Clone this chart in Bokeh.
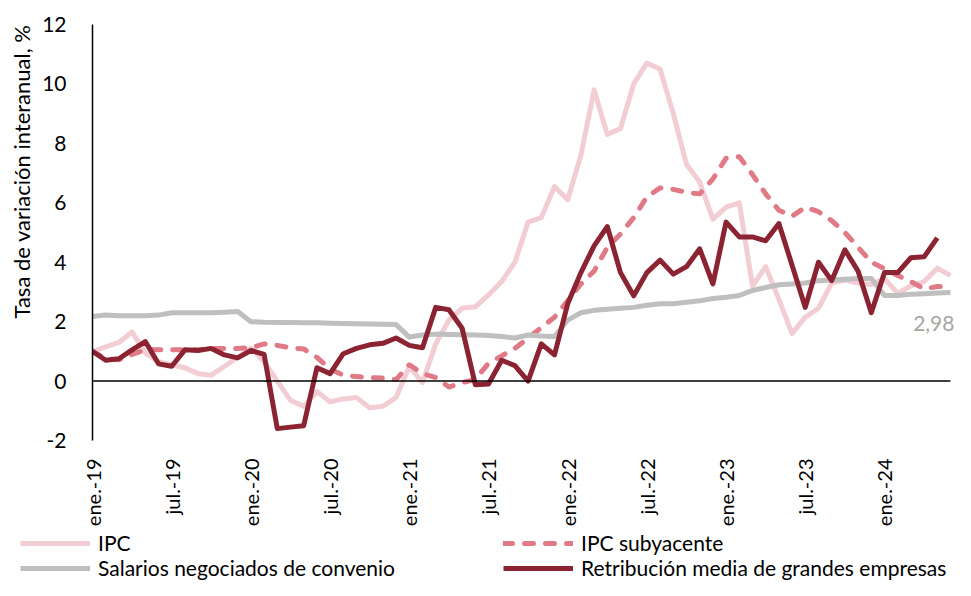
from math import pi
from bokeh.plotting import figure
from bokeh.layouts import column
from bokeh.models import Range1d, FixedTicker, Label, Legend, LegendItem, Title
from bokeh.embed import file_html
from bokeh.resources import INLINE

# ---------------- data ----------------
tick_labels = ["ene.-19", "jul.-19", "ene.-20", "jul.-20", "ene.-21", "jul.-21",
               "ene.-22", "jul.-22", "ene.-23", "jul.-23", "ene.-24"]
tick_step = 6
y_ticks = [-2, 0, 2, 4, 6, 8, 10, 12]

ipc = [1.0, 1.15, 1.3, 1.65, 0.95, 0.65, 0.55, 0.45, 0.25, 0.2,
       0.5, 0.8, 1.1, 0.65, 0.0, -0.65, -0.85, -0.35, -0.7, -0.6,
       -0.55, -0.9, -0.85, -0.55, 0.5, -0.05, 1.25, 2.05, 2.45, 2.5,
       2.9, 3.35, 4.0, 5.35, 5.5, 6.55, 6.1, 7.6, 9.8, 8.3,
       8.5, 10.0, 10.7, 10.5, 9.0, 7.3, 6.7, 5.45, 5.85, 6.0,
       3.2, 3.85, 2.75, 1.6, 2.15, 2.45, 3.3, 3.4, 3.3, 3.25,
       3.45, 2.95, 3.2, 3.35, 3.8, 3.55]

ipc_sub = [1.0, 0.75, 0.72, 0.9, 1.05, 1.05, 1.05, 1.05, 1.05, 1.1,
           1.1, 1.1, 1.12, 1.25, 1.2, 1.12, 1.08, 0.8, 0.4, 0.2,
           0.15, 0.12, 0.1, 0.05, 0.55, 0.25, 0.12, -0.2, -0.05, 0.05,
           0.6, 0.85, 1.1, 1.45, 1.8, 2.15, 2.7, 3.27, 3.7, 4.5,
           4.95, 5.5, 6.2, 6.5, 6.45, 6.35, 6.3, 6.8, 7.5, 7.55,
           6.95, 6.3, 5.75, 5.55, 5.85, 5.7, 5.4, 5.0, 4.5, 4.0,
           3.78, 3.55, 3.35, 3.1, 3.18, 3.18]

salarios = [2.17, 2.22, 2.2, 2.2, 2.2, 2.22, 2.3, 2.3, 2.3, 2.3,
            2.32, 2.34, 2.0, 1.98, 1.97, 1.97, 1.96, 1.96, 1.95, 1.94,
            1.93, 1.92, 1.91, 1.9, 1.48, 1.55, 1.58, 1.57, 1.56, 1.55,
            1.53, 1.5, 1.45, 1.55, 1.52, 1.5, 2.05, 2.3, 2.38, 2.42,
            2.45, 2.48, 2.55, 2.6, 2.6, 2.65, 2.7, 2.78, 2.82, 2.88,
            3.05, 3.15, 3.24, 3.27, 3.3, 3.38, 3.4, 3.43, 3.45, 3.45,
            2.88, 2.88, 2.92, 2.94, 2.96, 2.98]

retribucion = [1.0, 0.7, 0.75, 1.05, 1.33, 0.58, 0.5, 1.05, 1.03, 1.1,
               0.88, 0.78, 1.03, 0.9, -1.6, -1.55, -1.5, 0.45, 0.25, 0.92,
               1.1, 1.22, 1.27, 1.45, 1.2, 1.12, 2.48, 2.4, 1.78, -0.12,
               -0.1, 0.7, 0.52, 0.0, 1.25, 0.88, 2.6, 3.65, 4.55, 5.2,
               3.65, 2.87, 3.65, 4.07, 3.6, 3.85, 4.45, 3.27, 5.35, 4.85,
               4.85, 4.72, 5.3, 3.9, 2.48, 4.0, 3.38, 4.42, 3.7, 2.3,
               3.65, 3.65, 4.15, 4.18, 4.82]

names = ["IPC", "IPC subyacente", "Salarios negociados de convenio",
         "Retribución media de grandes empresas"]
y_title = "Tasa de variación interanual, %"

# ---------------- style ----------------
FONT = "Lato"
FS = "21px"
C_IPC = "#F2CDD3"
C_SUB = "#E07A86"
C_SAL = "#BFBFBF"
C_RET = "#8C2332"
styles = {
    "ipc": dict(line_color=C_IPC, line_width=5, line_join="round"),
    "sub": dict(line_color=C_SUB, line_width=5, line_dash="9 12",
                line_cap="round", line_join="round"),
    "sal": dict(line_color=C_SAL, line_width=5, line_join="round"),
    "ret": dict(line_color=C_RET, line_width=5, line_join="round"),
}
series = {"ipc": ipc, "sub": ipc_sub, "sal": salarios, "ret": retribucion}

n = len(ipc)
p = figure(width=955, height=529, output_backend="svg", toolbar_location=None,
           x_range=Range1d(0, 65.38), y_range=Range1d(-2, 12),
           min_border_left=92, min_border_right=0, min_border_top=24,
           min_border_bottom=89)
p.outline_line_color = None
p.xgrid.visible = False
p.ygrid.visible = False
p.background_fill_color = "white"
p.border_fill_color = "white"

# y axis
p.yaxis.ticker = FixedTicker(ticks=y_ticks)
p.yaxis.major_label_overrides = {t: str(t) for t in y_ticks}
p.yaxis.axis_line_color = "black"
p.yaxis.axis_line_width = 1.5
p.yaxis.major_tick_line_color = None
p.yaxis.minor_tick_line_color = None
p.yaxis.major_tick_out = 0
p.yaxis.major_label_standoff = 26
p.yaxis.major_label_text_font = FONT
p.yaxis.major_label_text_font_size = FS
p.yaxis.major_label_text_color = "black"

# x axis (labels only)
xt = [i * tick_step for i in range(len(tick_labels))]
p.xaxis.ticker = FixedTicker(ticks=xt)
p.xaxis.major_label_overrides = {t: lab for t, lab in zip(xt, tick_labels)}
p.xaxis.axis_line_color = None
p.xaxis.major_tick_line_color = None
p.xaxis.minor_tick_line_color = None
p.xaxis.major_tick_out = 0
p.xaxis.major_label_standoff = 18
p.xaxis.major_label_orientation = pi / 2
p.xaxis.major_label_text_font = FONT
p.xaxis.major_label_text_font_size = "20px"
p.xaxis.major_label_text_color = "black"

for k in ["ipc", "sub", "sal", "ret"]:
    p.line(list(range(len(series[k]))), series[k], **styles[k])

# zero line across the data span
p.line([0, n - 1], [0, 0], line_color="black", line_width=1.5)

# y title (left panel)
p.add_layout(Title(text=y_title, align="right", standoff=9,
                   text_font=FONT, text_font_size="22px", text_font_style="normal",
                   text_color="black"), "left")

# last-value label
p.add_layout(Label(x=n - 1, y=salarios[-1],
                   text=f"{salarios[-1]:.2f}".replace(".", ","),
                   x_offset=4, y_offset=-31, text_align="right",
                   text_baseline="middle", text_font=FONT,
                   text_font_size=FS, text_color="#A6A6A6"))

# ---------------- legend strip ----------------
lf = figure(width=955, height=51, output_backend="svg", toolbar_location=None,
            x_range=Range1d(0, 1), y_range=Range1d(100, 101),
            x_axis_type=None, y_axis_type=None, min_border=0)
lf.frame_align = False
lf.outline_line_color = None
lf.xgrid.visible = False
lf.ygrid.visible = False
lr = {k: lf.line(list(range(len(series[k]))), series[k], **v) for k, v in styles.items()}

def mk_legend(items, loc):
    return Legend(items=items, location=loc, orientation="vertical",
                  glyph_width=70, glyph_height=18, label_height=18,
                  label_standoff=8, spacing=0, padding=0, margin=0,
                  label_text_font=FONT, label_text_font_size="21px",
                  label_text_color="black", border_line_color=None,
                  background_fill_alpha=0)

lf.add_layout(mk_legend([LegendItem(label=names[0], renderers=[lr["ipc"]]),
                         LegendItem(label=names[2], renderers=[lr["sal"]])],
                        (20, 0)), "center")
lf.add_layout(mk_legend([LegendItem(label=names[1], renderers=[lr["sub"]]),
                         LegendItem(label=names[3], renderers=[lr["ret"]])],
                        (503, 0)), "center")

layout = column(p, lf, spacing=0)
open("out.html", "w").write(file_html(layout, INLINE))
